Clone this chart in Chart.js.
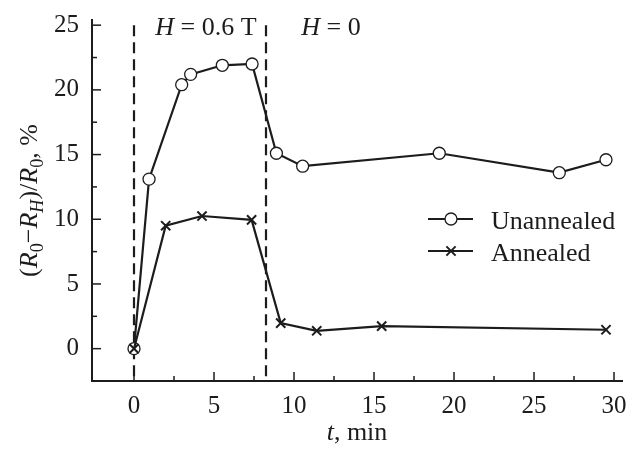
<!DOCTYPE html>
<html>
<head>
<meta charset="utf-8">
<script src="https://cdn.jsdelivr.net/npm/chart.js@4.4.1/dist/chart.umd.min.js"></script>
<style>
  html, body { margin: 0; padding: 0; background: #fff; }
</style>
</head>
<body>
<canvas id="chart" width="635" height="449"></canvas>
<script>
// time after switching, min
const unannealedT = [0, 0.94, 2.98, 3.54, 5.52, 7.38, 8.9, 10.54, 19.08, 26.58, 29.5];
const unannealedY = [0, 13.1, 20.4, 21.2, 21.9, 22.0, 15.1, 14.1, 15.1, 13.6, 14.6];
const annealedT = [0, 1.98, 4.25, 7.35, 9.17, 11.42, 15.48, 29.5];
const annealedY = [0, 9.5, 10.25, 9.95, 1.97, 1.38, 1.74, 1.46];
// field switched on at 0, switched off here
const fieldOn = 0;
const fieldOff = 8.25;
const seriesNames = ['Unannealed', 'Annealed'];

const FONT = '"Liberation Serif", "Times New Roman", serif';
const INK = '#1c1c1c';

function pts(ts, ys) {
  return ts.map((t, i) => ({ x: t, y: ys[i] }));
}

// draws a run of text pieces (italic / subscript) starting at x
function runWidth(ctx, runs, size) {
  let w = 0;
  runs.forEach(r => {
    ctx.font = (r.it ? 'italic ' : '') + (r.sub ? size * 0.7 : size) + 'px ' + FONT;
    w += ctx.measureText(r.t).width;
  });
  return w;
}
function drawRuns(ctx, runs, x, y, size) {
  runs.forEach(r => {
    ctx.font = (r.it ? 'italic ' : '') + (r.sub ? size * 0.7 : size) + 'px ' + FONT;
    ctx.fillText(r.t, x, r.sub ? y + size * 0.22 : y);
    x += ctx.measureText(r.t).width;
  });
}
function drawCentered(ctx, runs, cx, y, size) {
  drawRuns(ctx, runs, cx - runWidth(ctx, runs, size) / 2, y, size);
}

// fixed axis boxes, no extra room for edge labels
function fixBox(size) {
  return function (s) {
    if (s.isHorizontal()) s.height = size; else s.width = size;
    s.paddingTop = 0;
    s.paddingBottom = 0;
    s.paddingLeft = 0;
    s.paddingRight = 0;
  };
}

const extras = {
  id: 'extras',
  afterDraw(chart) {
    const { ctx, chartArea: a } = chart;
    const x = chart.scales.x, y = chart.scales.y;
    ctx.save();
    ctx.strokeStyle = INK;
    ctx.fillStyle = INK;
    ctx.lineWidth = 1.5;

    // inward tick marks, minor every 2.5
    for (let v = 0; v <= 30; v += 2.5) {
      const px = x.getPixelForValue(v);
      const len = v % 5 === 0 ? 9 : 5;
      ctx.beginPath();
      ctx.moveTo(px, a.bottom);
      ctx.lineTo(px, a.bottom - len);
      ctx.stroke();
    }
    for (let v = 0; v <= 25; v += 2.5) {
      const py = y.getPixelForValue(v);
      const len = v % 5 === 0 ? 9 : 5;
      ctx.beginPath();
      ctx.moveTo(a.left, py);
      ctx.lineTo(a.left + len, py);
      ctx.stroke();
    }

    ctx.textAlign = 'left';
    ctx.textBaseline = 'alphabetic';

    // field labels above the two regions
    drawCentered(ctx, [{ t: 'H', it: true }, { t: ' = 0.6 T' }], 206, 35, 26);
    drawCentered(ctx, [{ t: 'H', it: true }, { t: ' = 0' }], 331, 35, 26);

    // x axis title
    drawCentered(ctx, [{ t: 't', it: true }, { t: ', min' }], (a.left + a.right) / 2, 440, 26);

    // y axis title
    ctx.save();
    ctx.translate(37, (a.top + a.bottom) / 2);
    ctx.rotate(-Math.PI / 2);
    drawCentered(ctx, [
      { t: '(' }, { t: 'R', it: true }, { t: '0', sub: true },
      { t: '\u2212' }, { t: 'R', it: true }, { t: 'H', it: true, sub: true },
      { t: ')/' }, { t: 'R', it: true }, { t: '0', sub: true }, { t: ', %' }
    ], 0, 0, 26);
    ctx.restore();

    // legend
    const rows = [219, 251];
    rows.forEach((ly, i) => {
      ctx.lineWidth = 2.2;
      ctx.beginPath();
      ctx.moveTo(428, ly);
      ctx.lineTo(473, ly);
      ctx.stroke();
      const ds = chart.data.datasets[i];
      ctx.fillStyle = ds.pointBackgroundColor;
      ctx.lineWidth = ds.pointBorderWidth;
      Chart.helpers.drawPoint(ctx, {
        pointStyle: ds.pointStyle, radius: ds.pointRadius,
        borderWidth: ds.pointBorderWidth, rotation: 0
      }, 451, ly);
      ctx.fillStyle = INK;
      ctx.font = '26px ' + FONT;
      ctx.fillText(seriesNames[i], 491, ly + 10);
    });
    ctx.restore();
  }
};

function divider(t) {
  return {
    data: [{ x: t, y: 25 }, { x: t, y: -2.5 }],
    showLine: true,
    borderColor: INK,
    borderWidth: 2.2,
    borderDash: [11, 6],
    pointRadius: 0,
    order: 3
  };
}

new Chart(document.getElementById('chart'), {
  type: 'scatter',
  data: {
    datasets: [
      {
        label: seriesNames[0],
        data: pts(unannealedT, unannealedY),
        showLine: true,
        borderColor: INK,
        borderWidth: 2.2,
        pointStyle: 'circle',
        pointRadius: 6,
        pointBackgroundColor: '#fff',
        pointBorderColor: INK,
        pointBorderWidth: 1.3,
        order: 1
      },
      {
        label: seriesNames[1],
        data: pts(annealedT, annealedY),
        showLine: true,
        borderColor: INK,
        borderWidth: 2.2,
        pointStyle: 'crossRot',
        pointRadius: 6.5,
        pointBackgroundColor: INK,
        pointBorderColor: INK,
        pointBorderWidth: 2,
        order: 0
      },
      divider(fieldOn),
      divider(fieldOff)
    ]
  },
  options: {
    responsive: false,
    animation: false,
    devicePixelRatio: 1,
    layout: { padding: { top: 20, right: 13, left: 0, bottom: 0 } },
    plugins: { legend: { display: false }, tooltip: { enabled: false } },
    scales: {
      x: {
        type: 'linear',
        min: -2.625,
        max: 30.5,
        afterFit: fixBox(68),
        grid: { drawOnChartArea: false, drawTicks: false },
        border: { color: INK, width: 2 },
        ticks: {
          stepSize: 5, includeBounds: false, autoSkip: false, maxRotation: 0,
          padding: 10, color: INK, font: { family: FONT, size: 25 }
        }
      },
      y: {
        min: -2.5,
        max: 25.4,
        afterFit: fixBox(92),
        grid: { drawOnChartArea: false, drawTicks: false },
        border: { color: INK, width: 2 },
        ticks: {
          stepSize: 5, includeBounds: false, autoSkip: false,
          padding: 13, color: INK, font: { family: FONT, size: 25 }
        }
      }
    }
  },
  plugins: [extras]
});
</script>
</body>
</html>
